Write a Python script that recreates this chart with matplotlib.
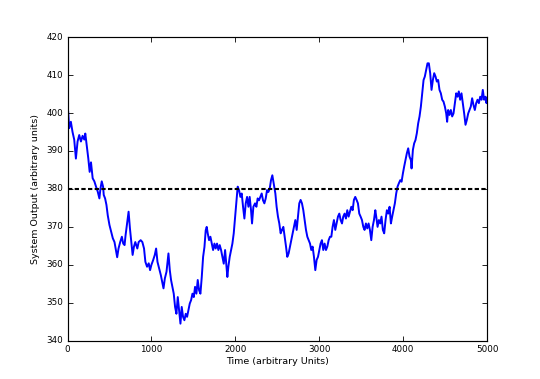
# Plot of system output over time with a reference level
import matplotlib
matplotlib.use('Agg')
from matplotlib import pyplot as plt

# Time samples (arbitrary units)
time = [0, 8, 20, 40, 60, 80, 100, 120, 140, 160, 180, 200, 212, 228, 248, 264, 280, 300,
        320, 340, 360, 380, 392, 408, 424, 432, 448, 464, 480, 500, 520, 540, 560, 580,
        592, 608, 628, 648, 664, 680, 692, 708, 728, 744, 760, 776, 792, 808, 832, 848,
        872, 892, 912, 928, 948, 968, 984, 1000, 1020, 1040, 1056, 1072, 1092, 1112, 1128,
        1144, 1160, 1180, 1203, 1219, 1234, 1250, 1266, 1282, 1298, 1314, 1330, 1346, 1361,
        1377, 1393, 1409, 1425, 1441, 1457, 1473, 1489, 1505, 1520, 1536, 1552, 1568, 1584,
        1600, 1616, 1632, 1647, 1659, 1671, 1687, 1703, 1719, 1735, 1751, 1766, 1782, 1798,
        1814, 1830, 1846, 1862, 1878, 1894, 1905, 1917, 1933, 1949, 1965, 1981, 1997, 2013,
        2028, 2044, 2060, 2076, 2092, 2108, 2124, 2140, 2156, 2171, 2187, 2199, 2215, 2235,
        2251, 2266, 2282, 2298, 2314, 2330, 2346, 2362, 2378, 2394, 2410, 2425, 2441, 2457,
        2477, 2492, 2508, 2524, 2540, 2556, 2572, 2588, 2604, 2619, 2635, 2651, 2667, 2683,
        2699, 2715, 2731, 2747, 2762, 2778, 2794, 2810, 2826, 2842, 2858, 2874, 2890, 2905,
        2921, 2937, 2953, 2969, 2985, 3001, 3016, 3032, 3048, 3064, 3080, 3096, 3112, 3128,
        3144, 3159, 3175, 3191, 3207, 3223, 3239, 3255, 3271, 3286, 3302, 3318, 3334, 3350,
        3366, 3382, 3398, 3413, 3429, 3445, 3461, 3477, 3493, 3509, 3525, 3540, 3556, 3572,
        3588, 3604, 3620, 3636, 3652, 3668, 3679, 3695, 3711, 3727, 3742, 3758, 3774, 3790,
        3806, 3822, 3838, 3854, 3869, 3885, 3901, 3917, 3933, 3949, 3965, 3981, 3997, 4012,
        4028, 4044, 4060, 4076, 4092, 4100, 4116, 4131, 4147, 4163, 4179, 4195, 4211, 4227,
        4243, 4258, 4274, 4290, 4306, 4322, 4338, 4354, 4370, 4386, 4401, 4417, 4433, 4449,
        4465, 4481, 4497, 4513, 4524, 4536, 4552, 4568, 4584, 4600, 4616, 4632, 4648, 4663,
        4679, 4695, 4711, 4727, 4743, 4759, 4775, 4790, 4806, 4822, 4838, 4854, 4870, 4886,
        4902, 4918, 4934, 4949, 4965, 4981, 4993, 5000]

# System output at each time sample
output = [400.8, 400.4, 396.0, 397.7, 395.0, 393.0, 388.0, 392.5, 394.2, 392.5, 394.0, 393.0,
          394.6, 391.6, 388.0, 384.5, 387.0, 382.8, 382.0, 380.6, 379.3, 377.5, 380.0, 382.0,
          380.6, 378.4, 377.5, 375.8, 373.0, 370.5, 368.7, 367.0, 366.0, 363.4, 362.0, 364.3,
          366.0, 367.4, 365.6, 365.2, 367.8, 370.5, 374.0, 369.6, 366.0, 362.6, 364.8, 366.0,
          364.3, 366.0, 366.5, 366.0, 364.3, 360.8, 359.5, 360.4, 358.6, 360.0, 361.2, 362.6,
          364.3, 360.8, 359.0, 357.3, 355.5, 353.8, 356.4, 358.2, 363.0, 358.6, 356.0, 354.2,
          352.4, 348.9, 347.1, 351.5, 348.0, 344.5, 348.9, 346.3, 345.4, 347.1, 346.3, 348.0,
          349.8, 350.7, 352.4, 351.5, 354.2, 352.4, 356.0, 353.3, 352.4, 356.8, 362.1, 364.7,
          369.1, 370.0, 368.3, 366.5, 367.4, 365.6, 363.9, 365.6, 364.3, 365.6, 363.9, 365.2,
          363.9, 362.1, 360.3, 363.9, 359.5, 356.8, 359.5, 362.1, 363.9, 365.6, 368.3, 372.6,
          377.0, 380.6, 379.7, 377.9, 378.8, 375.3, 372.2, 376.2, 377.9, 375.3, 377.9, 374.4,
          370.9, 375.3, 376.2, 375.3, 377.5, 377.0, 377.9, 378.8, 377.0, 376.2, 377.5, 379.7,
          379.2, 380.1, 382.3, 383.6, 381.4, 378.8, 375.3, 372.7, 370.9, 368.3, 369.2, 370.0,
          367.4, 364.8, 362.1, 363.0, 364.8, 366.5, 368.3, 370.0, 371.8, 369.2, 372.7, 376.2,
          377.1, 376.2, 374.4, 371.8, 369.2, 367.4, 366.5, 365.6, 363.9, 364.8, 362.1, 358.6,
          361.3, 362.1, 363.9, 365.6, 366.5, 363.9, 365.6, 363.9, 364.8, 366.5, 367.4, 367.4,
          370.0, 371.8, 369.2, 370.9, 372.7, 373.5, 371.8, 370.9, 372.7, 373.5, 372.2, 374.4,
          372.7, 374.0, 375.3, 374.4, 377.1, 377.9, 377.1, 376.2, 373.5, 372.7, 371.8, 370.0,
          369.2, 370.9, 369.6, 370.9, 369.2, 366.5, 370.0, 371.8, 374.4, 372.7, 370.0, 371.8,
          370.9, 372.7, 369.2, 368.3, 371.8, 374.4, 373.5, 375.3, 370.9, 372.7, 374.4, 376.2,
          378.8, 380.6, 381.5, 382.3, 381.9, 384.1, 385.9, 387.6, 389.4, 390.7, 388.5, 387.6,
          385.4, 390.3, 392.0, 392.9, 394.7, 397.3, 399.1, 401.7, 405.2, 408.7, 409.6, 411.4,
          413.1, 413.1, 410.5, 406.1, 408.7, 410.5, 409.6, 408.3, 408.7, 406.1, 405.2, 403.5,
          403.0, 401.7, 399.9, 397.7, 400.8, 399.5, 400.8, 399.1, 399.9, 402.6, 405.2, 404.3,
          405.7, 403.5, 405.2, 402.6, 399.9, 396.9, 398.2, 399.9, 400.8, 401.7, 403.9, 402.1,
          400.8, 402.6, 403.5, 402.6, 404.3, 403.5, 406.1, 403.5, 404.3, 402.6, 404.0]

reference_level = 380

plt.style.use('classic')
plt.rcParams['font.family'] = ['DejaVu Sans']

fig = plt.figure(figsize=(5.4, 3.79), dpi=100, facecolor='white')
ax = fig.add_subplot(111)
fig.subplots_adjust(left=0.125, right=0.902, bottom=0.101, top=0.902)

ax.plot(time, output, color='b', linewidth=1.4)
ax.axhline(reference_level, color='k', linestyle='--', linewidth=1.5, dashes=(3.1, 1.7))

ax.set_xlim(0, 5000)
ax.set_ylim(340, 420)
ax.set_xticks([0, 1000, 2000, 3000, 4000, 5000])
ax.set_yticks([340, 350, 360, 370, 380, 390, 400, 410, 420])
ax.tick_params(labelsize=6.3, length=3.4, width=0.6, pad=3)
for s in ax.spines.values():
    s.set_linewidth(0.85)

ax.set_xlabel('Time (arbitrary Units)', fontsize=6.8, labelpad=2)
ax.set_ylabel('System Output (arbitrary units)', fontsize=6.8, labelpad=5)

fig.savefig('out.png', dpi=100, facecolor='white')
